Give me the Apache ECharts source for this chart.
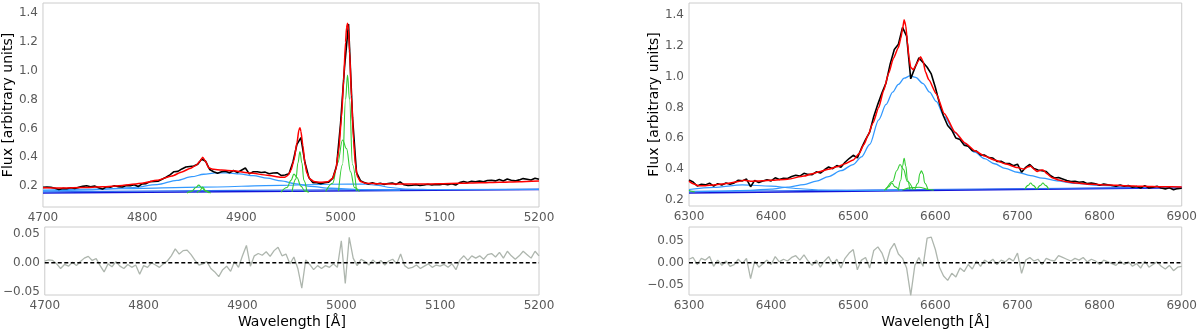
<!DOCTYPE html>
<html>
<head>
<meta charset="utf-8">
<script src="https://cdn.jsdelivr.net/npm/echarts@6/dist/echarts.min.js"></script>
<style>
html, body { margin: 0; padding: 0; background: #fff; }
#chart { width: 1200px; height: 331px; }
</style>
</head>
<body>
<div id="chart"></div>
<script>
// ---- left panel: Hβ + [OIII] ----
const hbStart = 4700, hbStep = 4;
const hbFlux = [
  0.191, 0.193, 0.192, 0.185, 0.177, 0.184, 0.182, 0.189, 0.184, 0.191,
  0.198, 0.202, 0.196, 0.200, 0.189, 0.179, 0.195, 0.192, 0.202, 0.196,
  0.194, 0.204, 0.202, 0.210, 0.197, 0.215, 0.217, 0.231, 0.232, 0.234,
  0.248, 0.261, 0.278, 0.300, 0.302, 0.319, 0.332, 0.336, 0.339, 0.352,
  0.388, 0.372, 0.315, 0.300, 0.289, 0.299, 0.303, 0.293, 0.308, 0.294,
  0.310, 0.325, 0.285, 0.300, 0.300, 0.294, 0.297, 0.285, 0.291, 0.293,
  0.274, 0.277, 0.285, 0.367, 0.490, 0.536, 0.365, 0.260, 0.224, 0.224,
  0.216, 0.223, 0.227, 0.253, 0.342, 0.638, 1.029, 1.324, 0.678, 0.295,
  0.238, 0.224, 0.215, 0.223, 0.215, 0.220, 0.212, 0.218, 0.221, 0.212,
  0.229, 0.209, 0.204, 0.206, 0.210, 0.204, 0.208, 0.213, 0.207, 0.212,
  0.210, 0.214, 0.209, 0.216, 0.207, 0.224, 0.232, 0.225, 0.233, 0.230,
  0.235, 0.230, 0.239, 0.241, 0.236, 0.245, 0.236, 0.249, 0.241, 0.236,
  0.243, 0.252, 0.247, 0.242, 0.255, 0.248
];
const hbResid = [
  0.003, 0.005, 0.004, -0.002, -0.010, -0.003, -0.006, 0.001, -0.005, 0.002,
  0.008, 0.011, 0.004, 0.007, -0.005, -0.016, -0.002, -0.007, 0.002, -0.006,
  -0.010, -0.003, -0.008, -0.004, -0.020, -0.005, -0.008, 0.000, -0.004, -0.008,
  -0.002, 0.003, 0.012, 0.024, 0.015, 0.021, 0.022, 0.014, 0.004, -0.004,
  -0.002, 0.002, -0.010, -0.016, -0.024, -0.012, -0.006, -0.015, 0.002, -0.008,
  0.012, 0.030, -0.006, 0.012, 0.016, 0.013, 0.019, 0.011, 0.021, 0.027,
  0.012, 0.015, -0.002, 0.010, -0.010, -0.044, 0.005, -0.003, -0.012, -0.005,
  -0.010, -0.005, -0.008, -0.002, -0.008, 0.038, -0.036, 0.044, 0.008, -0.005,
  0.006, 0.002, -0.004, 0.005, -0.002, 0.004, -0.004, 0.003, 0.006, -0.002,
  0.015, -0.005, -0.010, -0.008, -0.004, -0.010, -0.006, -0.002, -0.008, -0.004,
  -0.006, -0.003, -0.008, -0.002, -0.012, 0.005, 0.012, 0.004, 0.012, 0.008,
  0.012, 0.006, 0.014, 0.016, 0.010, 0.018, 0.008, 0.020, 0.012, 0.006,
  0.012, 0.020, 0.014, 0.008, 0.020, 0.012
];
const hbFit = [
  [4700, 0.188], [4720, 0.187], [4740, 0.19], [4760, 0.195], [4780, 0.204], [4800, 0.22],
  [4815, 0.24], [4830, 0.27], [4840, 0.298], [4848, 0.322], [4854, 0.342], [4858, 0.37],
  [4861, 0.40], [4864, 0.37], [4867, 0.327], [4872, 0.316], [4880, 0.311], [4892, 0.306],
  [4909, 0.29], [4926, 0.276], [4940, 0.262], [4944, 0.262], [4947, 0.275], [4950, 0.31],
  [4953, 0.38], [4956, 0.5], [4958, 0.59], [4959, 0.605], [4960, 0.58], [4962, 0.48],
  [4964, 0.36], [4966, 0.29], [4969, 0.25], [4973, 0.232], [4980, 0.226], [4987, 0.23],
  [4992, 0.255], [4995, 0.31], [4998, 0.44], [5001, 0.68], [5003, 0.93], [5005, 1.2],
  [5006, 1.30], [5007, 1.33], [5008, 1.28], [5009, 1.14], [5011, 0.82], [5013, 0.52],
  [5015, 0.34], [5017, 0.265], [5020, 0.232], [5025, 0.22], [5040, 0.216], [5060, 0.214],
  [5080, 0.214], [5100, 0.216], [5120, 0.219], [5140, 0.223], [5160, 0.227], [5180, 0.231],
  [5200, 0.236]
];
const hbContinuum = [[4700, 0.152], [5200, 0.176]];
const hbBaseMid = [[4700, 0.160], [4800, 0.165], [4900, 0.170], [5000, 0.175], [5200, 0.177]];
const hbBaseWide = [
  [4700, 0.172], [4780, 0.182], [4860, 0.193], [4940, 0.205], [4990, 0.213], [5025, 0.214],
  [5038, 0.205], [5050, 0.19], [5065, 0.18], [5100, 0.176], [5200, 0.177]
];
const hbBroad = [
  [4700, 0.166], [4750, 0.174], [4790, 0.19], [4815, 0.21], [4835, 0.24], [4850, 0.265],
  [4862, 0.282], [4874, 0.292], [4885, 0.292], [4898, 0.285], [4912, 0.272], [4926, 0.255],
  [4940, 0.236], [4955, 0.215], [4970, 0.198], [4990, 0.185], [5020, 0.176], [5060, 0.172]
];
const hbNarrow = [
  [[4845, 0.152], [4850, 0.165], [4854, 0.19], [4857, 0.207], [4860, 0.19], [4864, 0.165], [4869, 0.152]],
  [[4855, 0.153], [4858, 0.168], [4861, 0.193], [4864, 0.168], [4867, 0.153]],
  [[4940, 0.158], [4946, 0.19], [4950, 0.24], [4953, 0.283], [4956, 0.26], [4960, 0.2], [4964, 0.165], [4968, 0.158]],
  [[4951, 0.16], [4955, 0.25], [4957, 0.36], [4959, 0.44], [4961, 0.36], [4963, 0.24], [4966, 0.165]],
  [[4985, 0.162], [4992, 0.22], [4997, 0.36], [5002, 0.52], [5006, 0.46], [5010, 0.3], [5014, 0.19], [5019, 0.162]],
  [[4998, 0.165], [5002, 0.35], [5005, 0.8], [5007, 0.97], [5009, 0.8], [5012, 0.35], [5016, 0.165]]
];

// ---- right panel: Hα + [NII] + [SII] ----
const haStart = 6300, haStep = 5;
const haFlux = [
  0.330, 0.317, 0.291, 0.302, 0.298, 0.309, 0.290, 0.306, 0.297, 0.310,
  0.302, 0.311, 0.328, 0.324, 0.336, 0.286, 0.327, 0.314, 0.323, 0.332,
  0.324, 0.344, 0.333, 0.341, 0.339, 0.352, 0.360, 0.355, 0.373, 0.366,
  0.364, 0.383, 0.375, 0.396, 0.414, 0.403, 0.423, 0.413, 0.445, 0.469,
  0.490, 0.473, 0.536, 0.592, 0.640, 0.742, 0.822, 0.895, 0.961, 1.083,
  1.176, 1.210, 1.320, 1.263, 0.986, 1.057, 1.122, 1.092, 1.061, 1.018,
  0.930, 0.828, 0.743, 0.683, 0.653, 0.602, 0.593, 0.556, 0.549, 0.519,
  0.518, 0.492, 0.491, 0.475, 0.472, 0.450, 0.451, 0.437, 0.437, 0.422,
  0.432, 0.380, 0.412, 0.430, 0.404, 0.395, 0.390, 0.385, 0.359, 0.343,
  0.346, 0.336, 0.326, 0.319, 0.321, 0.315, 0.318, 0.306, 0.310, 0.305,
  0.296, 0.304, 0.299, 0.294, 0.289, 0.298, 0.289, 0.294, 0.283, 0.288,
  0.277, 0.293, 0.278, 0.283, 0.289, 0.278, 0.272, 0.279, 0.267, 0.274,
  0.276
];
const haResid = [
  0.008, 0.012, -0.004, 0.010, 0.006, 0.014, -0.008, 0.006, -0.006, 0.004,
  -0.008, -0.004, 0.008, -0.002, 0.010, -0.036, 0.004, -0.010, -0.002, 0.006,
  -0.004, 0.014, 0.002, 0.008, 0.004, 0.012, 0.016, 0.006, 0.018, 0.004,
  -0.006, 0.006, -0.010, 0.004, 0.014, -0.004, 0.008, -0.012, 0.010, 0.022,
  0.030, -0.016, 0.006, 0.012, -0.012, 0.028, 0.036, 0.022, -0.004, 0.030,
  0.044, 0.020, 0.010, -0.012, -0.074, -0.006, 0.012, -0.008, 0.056, 0.058,
  0.030, -0.010, -0.030, -0.040, -0.024, -0.032, -0.012, -0.020, -0.004, -0.014,
  0.004, -0.008, 0.006, 0.000, 0.008, -0.004, 0.006, 0.002, 0.010, 0.004,
  0.022, -0.024, 0.006, 0.012, 0.004, 0.008, -0.004, 0.010, 0.006, 0.004,
  0.016, 0.012, 0.008, 0.004, 0.010, 0.006, 0.012, 0.002, 0.008, 0.004,
  -0.004, 0.006, 0.002, -0.002, -0.006, 0.004, -0.004, 0.002, -0.008, -0.002,
  -0.012, 0.004, -0.010, -0.004, 0.002, -0.008, -0.014, -0.006, -0.018, -0.010,
  -0.008
];
const haFit = [
  [6300, 0.322], [6305, 0.305], [6312, 0.292], [6320, 0.292], [6330, 0.298], [6340, 0.303],
  [6350, 0.31], [6360, 0.32], [6367, 0.328], [6375, 0.322], [6390, 0.325], [6400, 0.328],
  [6420, 0.335], [6440, 0.355], [6450, 0.37], [6460, 0.385], [6470, 0.40], [6480, 0.415],
  [6490, 0.435], [6500, 0.46], [6507, 0.5], [6513, 0.56], [6518, 0.62], [6524, 0.7],
  [6531, 0.80], [6537, 0.91], [6543, 1.02], [6549, 1.12], [6555, 1.19], [6558, 1.25],
  [6560, 1.31], [6562, 1.37], [6564, 1.33], [6566, 1.22], [6568, 1.12], [6570, 1.06],
  [6573, 1.045], [6576, 1.07], [6579, 1.1], [6582, 1.13], [6585, 1.1], [6588, 1.03],
  [6592, 0.98], [6601, 0.89], [6611, 0.76], [6624, 0.64], [6636, 0.57], [6648, 0.52],
  [6660, 0.485], [6672, 0.46], [6685, 0.435], [6700, 0.41], [6708, 0.40], [6713, 0.415],
  [6716, 0.42], [6720, 0.40], [6724, 0.385], [6728, 0.393], [6731, 0.395], [6736, 0.37],
  [6742, 0.345], [6750, 0.33], [6760, 0.318], [6772, 0.31], [6790, 0.302], [6812, 0.297],
  [6830, 0.293], [6853, 0.289], [6875, 0.286], [6900, 0.284]
];
const haContinuum = [[6300, 0.245], [6900, 0.280]];
const haBaseMid = [[6300, 0.255], [6900, 0.282]];
const haBump = [
  [6300, 0.268], [6330, 0.282], [6365, 0.298], [6400, 0.29], [6430, 0.275], [6460, 0.265],
  [6500, 0.262], [6560, 0.263]
];
const haBroad = [
  [6300, 0.255], [6340, 0.258], [6374, 0.263], [6400, 0.27], [6420, 0.283], [6440, 0.3],
  [6455, 0.322], [6470, 0.352], [6485, 0.39], [6500, 0.43], [6510, 0.48], [6520, 0.56],
  [6531, 0.72], [6540, 0.82], [6548, 0.9], [6555, 0.95], [6562, 0.99], [6569, 1.005],
  [6576, 0.995], [6585, 0.955], [6593, 0.9], [6601, 0.84], [6611, 0.74], [6624, 0.635],
  [6636, 0.565], [6648, 0.51], [6660, 0.468], [6672, 0.435], [6685, 0.405], [6700, 0.38],
  [6716, 0.358], [6730, 0.342], [6748, 0.324], [6770, 0.308], [6800, 0.295], [6850, 0.285],
  [6900, 0.28]
];
const haNarrow = [
  [[6300, 0.263], [6303, 0.257], [6307, 0.252]],
  [[6538, 0.262], [6543, 0.285], [6547, 0.31], [6551, 0.285], [6556, 0.262]],
  [[6540, 0.265], [6548, 0.32], [6553, 0.39], [6557, 0.43], [6561, 0.4], [6566, 0.32], [6573, 0.265]],
  [[6555, 0.265], [6558, 0.33], [6560, 0.42], [6562, 0.47], [6564, 0.42], [6566, 0.33], [6569, 0.265]],
  [[6560, 0.265], [6572, 0.28], [6580, 0.283], [6592, 0.268], [6598, 0.264]],
  [[6575, 0.265], [6579, 0.31], [6581, 0.37], [6583, 0.39], [6585, 0.37], [6587, 0.31], [6591, 0.265]],
  [[6709, 0.27], [6713, 0.295], [6716, 0.31], [6719, 0.295], [6723, 0.27]],
  [[6724, 0.27], [6728, 0.295], [6731, 0.31], [6734, 0.295], [6738, 0.27]]
];

const mainTicks = [0.2, 0.4, 0.6, 0.8, 1.0, 1.2, 1.4];
const residTicks = [-0.05, 0, 0.05];

const FONT = 'DejaVu Sans';
const LABEL_COLOR = '#595959';

const onGrid = (start, step, vals) => vals.map((v, i) => [start + i * step, v]);

const chart = echarts.init(document.getElementById('chart'));

const grids = [
  { left: 42, top: 3, width: 497, height: 204 },
  { left: 42, top: 227, width: 497, height: 68 },
  { left: 689, top: 3, width: 497, height: 203 },
  { left: 689, top: 227, width: 497, height: 68 }
].map(g => ({ ...g, show: true, borderColor: '#cccccc', borderWidth: 1, backgroundColor: '#fff' }));

const xAx = (gi, min, max, named) => ({
  type: 'value', gridIndex: gi, min: min, max: max, interval: 100,
  axisLine: { show: false }, axisTick: { show: false }, splitLine: { show: false },
  axisLabel: { margin: 5, color: LABEL_COLOR, fontSize: 12, fontFamily: FONT, formatter: v => String(v) },
  name: named ? 'Wavelength [Å]' : '', nameLocation: 'middle', nameGap: 20,
  nameTextStyle: { color: '#000', fontSize: 14, fontFamily: FONT }
});

const yAx = (gi, min, max, ticks, digits, named) => ({
  type: 'value', gridIndex: gi, min: min, max: max,
  axisLine: { show: false }, axisTick: { show: false }, splitLine: { show: false },
  axisLabel: {
    customValues: ticks, margin: 5, color: LABEL_COLOR, fontSize: 12, fontFamily: FONT,
    formatter: v => v.toFixed(digits).replace('-', '\u2212')
  },
  name: named ? 'Flux [arbitrary units]' : '', nameLocation: 'middle', nameGap: 21,
  nameTextStyle: { color: '#000', fontSize: 14, fontFamily: FONT }
});

const line = (data, color, width, axis, opts) => Object.assign({
  type: 'line', data: data, xAxisIndex: axis, yAxisIndex: axis,
  symbol: 'none', silent: true, clip: true,
  lineStyle: { color: color, width: width }
}, opts || {});

const DARK_BLUE = '#1414d8';
const MID_BLUE = '#2f6cf0';
const LIGHT_BLUE = '#3399ff';
const GREEN = '#33cc33';
const RESID = '#aeb6ae';

const panelSeries = (axis, resAxis, cont, mid, extra, broad, narrow, flux, fit, resid, start, step, lo, hi) => {
  const s = [];
  s.push(line(cont, DARK_BLUE, 1.6, axis));
  s.push(line(mid, MID_BLUE, 1.1, axis));
  extra.forEach(e => s.push(line(e, LIGHT_BLUE, 1.1, axis, { smooth: 0.3, smoothMonotone: 'x' })));
  s.push(line(broad, LIGHT_BLUE, 1.3, axis, { smooth: 0.3, smoothMonotone: 'x' }));
  narrow.forEach(n => s.push(line(n, GREEN, 1.1, axis, { smooth: 0.4, smoothMonotone: 'x' })));
  s.push(line(onGrid(start, step, flux), '#000000', 1.6, axis));
  s.push(line(fit, '#ff0000', 1.5, axis, { smooth: 0.2, smoothMonotone: 'x' }));
  s.push(line(onGrid(start, step, resid), RESID, 1.3, resAxis));
  s.push(line([[lo, 0], [hi, 0]], '#000000', 1.3, resAxis,
    { lineStyle: { color: '#000', width: 1.3, type: [4, 2.5] } }));
  return s;
};

chart.setOption({
  animation: false,
  backgroundColor: '#ffffff',
  grid: grids,
  xAxis: [
    xAx(0, 4700, 5200, false), xAx(1, 4700, 5200, true),
    xAx(2, 6300, 6900, false), xAx(3, 6300, 6900, true)
  ],
  yAxis: [
    yAx(0, 0.055, 1.47, mainTicks, 1, true), yAx(1, -0.056, 0.062, residTicks, 2, false),
    yAx(2, 0.161, 1.478, mainTicks, 1, true), yAx(3, -0.073, 0.081, residTicks, 2, false)
  ],
  series: [
    ...panelSeries(0, 1, hbContinuum, hbBaseMid, [hbBaseWide], hbBroad, hbNarrow,
      hbFlux, hbFit, hbResid, hbStart, hbStep, 4700, 5200),
    ...panelSeries(2, 3, haContinuum, haBaseMid, [haBump], haBroad, haNarrow,
      haFlux, haFit, haResid, haStart, haStep, 6300, 6900)
  ]
});
</script>
</body>
</html>
